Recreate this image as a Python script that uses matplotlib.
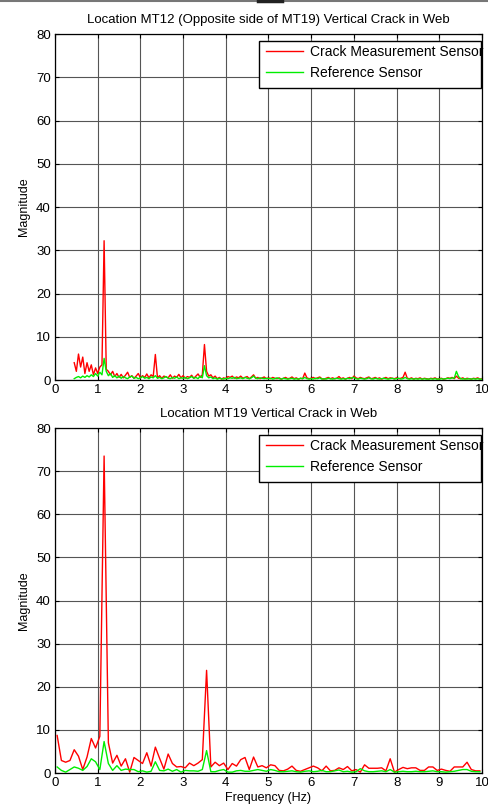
import numpy as np
import matplotlib
matplotlib.use("Agg")
import matplotlib.pyplot as plt
from matplotlib.patches import Rectangle
from matplotlib.lines import Line2D

plt.rcParams['font.family'] = ['Liberation Sans', 'DejaVu Sans']

# ---------------- data ----------------
title_top = "Location MT12 (Opposite side of MT19) Vertical Crack in Web"
title_bot = "Location MT19 Vertical Crack in Web"
series_labels = ["Crack Measurement Sensor", "Reference Sensor"]
x_ticks = [0, 1, 2, 3, 4, 5, 6, 7, 8, 9, 10]
y_ticks = [0, 10, 20, 30, 40, 50, 60, 70, 80]

# Top panel (MT12): frequency bins start 0.45 Hz, step 0.05 Hz
top_f0, top_df = 0.45, 0.05
top_red = [
    4.0, 2.0, 6.0, 3.0, 5.3, 1.5, 4.0, 2.0, 3.5, 1.2,
    2.8, 1.5, 3.0, 3.5, 32.2, 2.5, 2.0, 1.2, 2.0, 0.8,
    1.5, 0.6, 1.3, 0.5, 1.1, 1.8, 0.6, 1.0, 0.4, 0.9,
    1.5, 0.5, 1.0, 0.6, 1.4, 0.5, 1.2, 0.8, 5.9, 0.5,
    1.0, 0.4, 0.9, 0.7, 0.5, 1.2, 0.4, 0.9, 0.6, 1.3,
    0.5, 1.0, 0.4, 0.8, 0.6, 1.1, 0.4, 0.9, 1.4, 0.6,
    1.2, 8.2, 2.0, 0.9, 1.2, 0.5, 0.9, 0.3, 0.6, 0.2,
    0.5, 0.3, 0.8, 0.6, 0.9, 0.4, 0.7, 0.5, 0.9, 0.4,
    0.6, 0.8, 0.3, 0.7, 1.2, 0.4, 0.6, 0.3, 0.5, 0.7,
    0.3,
    0.5, 0.3, 0.6, 0.4, 0.3, 0.5, 0.2, 0.4, 0.6, 0.3,
    0.4, 0.7, 0.3, 0.5, 0.2, 0.4, 0.3, 1.6, 0.5, 0.3,
    0.4, 0.6, 0.3, 0.5, 0.7, 0.3, 0.2, 0.4, 0.6, 0.3,
    0.5, 0.3, 0.4, 0.8, 0.3, 0.5, 0.2, 0.4, 0.6, 0.3,
    0.9, 0.5, 0.3, 0.6, 0.4, 0.3, 0.5, 0.7, 0.3, 0.4,
    0.6, 0.3, 0.5, 0.2, 0.4, 0.6, 0.3, 0.5, 0.4, 0.3,
    0.5, 0.3, 0.4, 0.6, 1.8, 0.4, 0.3, 0.5, 0.2, 0.4,
    0.3, 0.5, 0.2, 0.4, 0.3, 0.2, 0.4, 0.3, 0.5, 0.2,
    0.3, 0.4, 0.2, 0.3, 0.5, 0.4, 0.6, 0.3, 0.9, 0.4,
    0.3, 0.5, 0.2, 0.4, 0.3, 0.2, 0.4, 0.3, 0.5, 0.2,
    0.3,
]
top_green = [
    0.3, 0.6, 0.8, 0.5, 0.9, 0.6, 1.0, 0.7, 1.2, 0.8, 1.5,
    0.9, 1.8, 1.2, 5.0, 2.0, 1.0, 1.5, 0.6, 1.0, 0.5,
    0.9, 0.4, 0.8, 0.5, 0.3, 0.7, 0.9, 0.4, 0.6, 0.3,
    0.5, 0.8, 0.4, 0.6, 0.3, 0.7, 0.5, 1.0, 0.4, 0.6,
    0.3, 0.5, 0.8, 0.4, 0.3, 0.6, 0.4, 0.7, 0.3, 0.5,
    0.4, 0.6, 0.3, 0.5, 0.8, 0.4, 0.6, 0.3, 0.9, 0.5,
    3.3, 1.0, 0.5, 0.7, 0.3, 0.5, 0.2, 0.4, 0.3, 0.2,
    0.4, 0.3, 0.5, 0.4, 0.6, 0.3, 0.4, 0.5, 0.3, 0.6,
    0.4, 0.3, 0.5, 0.9, 0.4, 0.3, 0.5, 0.4, 0.3, 0.4,
    0.3, 0.4, 0.2, 0.3, 0.5, 0.3, 0.2, 0.4, 0.3, 0.2,
    0.3, 0.4, 0.2, 0.3, 0.2, 0.4, 0.3, 0.6, 0.3, 0.2,
    0.3, 0.2, 0.4, 0.3, 0.5, 0.2, 0.3, 0.2, 0.4, 0.3,
    0.2, 0.3, 0.4, 0.3, 0.2, 0.3, 0.2, 0.4, 0.3, 0.5,
    0.6, 0.3, 0.2, 0.4, 0.3, 0.2, 0.3, 0.5, 0.3, 0.2,
    0.4, 0.3, 0.2, 0.3, 0.4, 0.3, 0.2, 0.3, 0.4, 0.2,
    0.3, 0.4, 0.2, 0.3, 0.6, 0.3, 0.2, 0.3, 0.2, 0.3,
    0.2, 0.3, 0.2, 0.3, 0.2, 0.2, 0.3, 0.2, 0.3, 0.2,
    0.2, 0.3, 0.2, 0.3, 0.4, 0.3, 0.5, 0.4, 2.0, 0.8,
    0.3, 0.2, 0.3, 0.2, 0.3, 0.2, 0.3, 0.2, 0.3, 0.2,
    0.2,
]

# Bottom panel (MT19): frequency bins start 0.05 Hz, step 0.1 Hz
bot_f0, bot_df = 0.05, 0.1
bot_red = [
    8.7, 2.9, 2.5, 2.9, 5.4, 3.9, 0.8, 3.7, 8.0, 5.8,
    8.5, 73.5, 7.0, 2.3, 4.1, 1.6, 3.3, 0.2, 3.6, 2.9,
    2.2, 4.7, 1.6, 6.0, 3.4, 0.9, 4.4, 2.2, 1.4, 1.5,
    1.2, 2.3, 1.7, 2.3, 3.1, 23.8, 1.4, 2.5, 1.7, 2.3,
    0.8, 2.2, 1.6, 3.1, 3.6, 0.8, 3.7, 1.4, 1.7, 1.2,
    1.9, 1.7, 0.6, 0.5, 0.9, 1.6, 0.6, 0.4, 0.8, 1.2,
    1.6, 1.2, 0.5, 1.6, 0.5, 0.6, 1.2, 0.8, 1.5, 0.5,
    0.8, 0.2, 1.9, 1.1, 1.1, 1.1, 1.2, 0.5, 3.3, 0.2,
    0.8, 1.3, 1.0, 1.2, 1.2, 0.6, 0.6, 1.4, 1.4, 0.6,
    0.9, 0.6, 0.4, 1.4, 1.4, 1.4, 2.5, 0.8, 0.5, 0.5,
]
bot_green = [
    1.4, 0.6, 0.2, 0.8, 1.4, 1.1, 0.6, 1.5, 3.3, 2.6,
    0.8, 7.3, 2.2, 0.6, 1.7, 0.6, 0.9, 0.8, 0.8, 0.3,
    0.5, 0.2, 0.4, 2.6, 0.6, 0.5, 0.9, 0.4, 0.8, 0.2,
    0.6, 0.5, 0.5, 0.4, 0.8, 5.2, 0.3, 0.3, 0.6, 0.8,
    0.2, 0.2, 0.5, 0.6, 0.4, 0.4, 0.6, 0.8, 0.6, 0.4,
    0.8, 0.6, 0.3, 0.3, 0.4, 0.5, 0.3, 0.2, 0.4, 0.5,
    0.3, 0.4, 0.6, 0.3, 0.3, 0.5, 0.7, 0.3, 0.4, 0.2,
    0.3, 1.0, 0.5, 0.3, 0.3, 0.4, 0.5, 0.3, 0.8, 0.2,
    0.3, 0.4, 0.3, 0.3, 0.4, 0.3, 0.3, 0.4, 0.5, 0.3,
    0.3, 0.2, 0.3, 0.4, 0.6, 0.8, 0.8, 0.4, 0.3, 0.3,
]

# ---------------- figure ----------------
W, H = 489, 809
fig = plt.figure(figsize=(W / 100, H / 100), dpi=100)


def ax_rect(l, t, r, b):
    return [l / W, 1 - b / H, (r - l) / W, (b - t) / H]


ax1 = fig.add_axes(ax_rect(55, 34, 482, 380))
ax2 = fig.add_axes(ax_rect(55, 428, 482, 773))

panels = [
    (ax1, top_f0, top_df, top_red, top_green, title_top, 346),
    (ax2, bot_f0, bot_df, bot_red, bot_green, title_bot, 345),
]

for ax, f0, df, red, green, title, hpx in panels:
    fr = f0 + df * np.arange(len(red))
    fg = f0 + df * np.arange(len(green))
    l1, = ax.plot(fr, red, color='#ff0000', lw=1.0, label=series_labels[0], zorder=3)
    l2, = ax.plot(fg, green, color='#00ee00', lw=1.0, label=series_labels[1], zorder=3)
    ax.set_xlim(0, 10)
    ax.set_ylim(0, 80)
    ax.set_xticks(x_ticks)
    ax.set_yticks(y_ticks)
    ax.grid(True, color='#555555', lw=0.8, zorder=1)
    ax.set_axisbelow(True)
    ax.tick_params(direction='in', top=True, right=True, length=3,
                   labelsize=9.5, colors='black', pad=3)
    for s in ax.spines.values():
        s.set_linewidth(0.9)
        s.set_color('black')
    ax.set_ylabel("Magnitude", fontsize=9)
    ax.set_title(title, fontsize=9.5, pad=8)
    # legend frame (fixed to the axes' right edge, text may overflow it)
    x0 = (259 - 55) / 427
    x1 = (481 - 55) / 427
    ytop = 1 - 7 / hpx
    ybot = 1 - 54 / hpx
    ax.add_patch(Rectangle((x0, ybot), x1 - x0, ytop - ybot,
                           transform=ax.transAxes, facecolor='white',
                           edgecolor='black', lw=1.0, zorder=5, clip_on=False))
    leg = ax.legend(handles=[l1, l2], loc='upper left',
                    bbox_to_anchor=(x0 + 2 / 427, ytop + 1 / hpx),
                    frameon=False, fontsize=10, handlelength=2.7,
                    handletextpad=0.45, labelspacing=0.5, borderpad=0.35,
                    borderaxespad=0)
    leg.set_zorder(6)

ax2.set_xlabel("Frequency (Hz)", fontsize=9, labelpad=2)

# screenshot top border
fig.add_artist(Line2D([0, 1], [1 - 1 / H, 1 - 1 / H], color='#777777', lw=1.5))
fig.add_artist(Line2D([258 / W, 282 / W], [1 - 1 / H, 1 - 1 / H], color='#222222', lw=2.5))

fig.savefig("out.png", dpi=100)
